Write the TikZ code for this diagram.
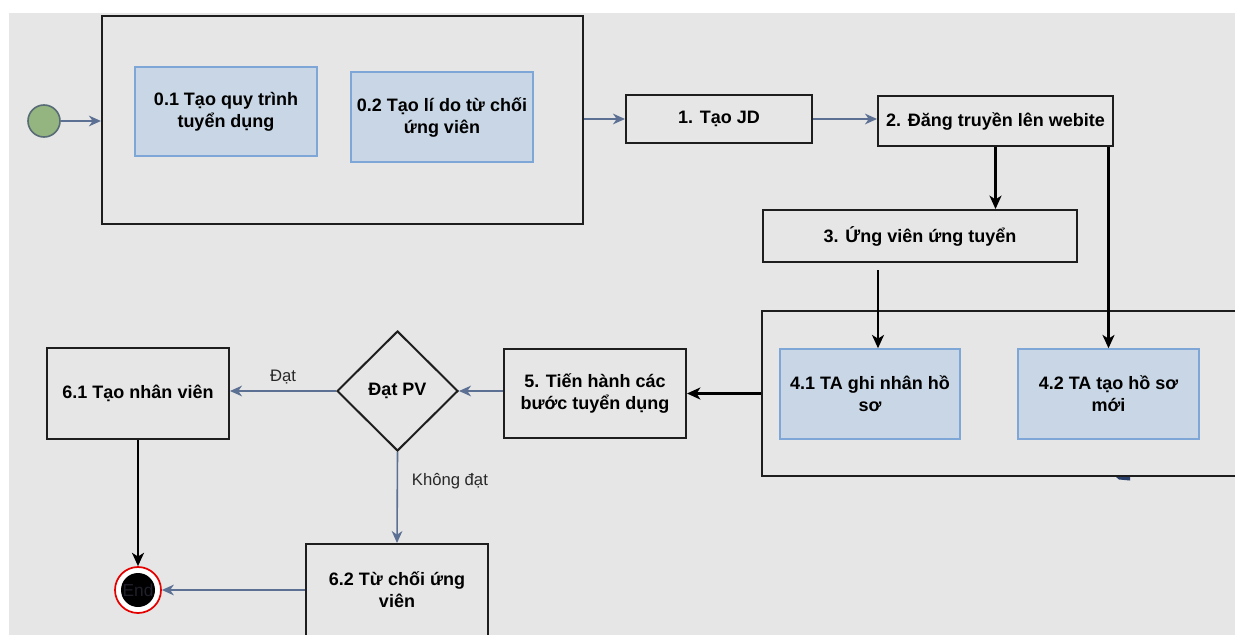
\documentclass[tikz,border=0pt]{standalone}
\usepackage{fontspec}
\setmainfont{Liberation Sans}
\usetikzlibrary{arrows.meta,shapes.geometric}

% one drawing unit
\def\pxu{0.75pt}

\definecolor{bggray}{RGB}{230,230,230}
\definecolor{flowblue}{RGB}{92,112,148}
\definecolor{taskfill}{RGB}{200,214,229}
\definecolor{taskline}{RGB}{126,166,214}
\definecolor{startfill}{RGB}{148,180,128}
\definecolor{startline}{RGB}{88,108,118}
\definecolor{edgegray}{RGB}{30,30,30}
\definecolor{endtext}{RGB}{32,32,44}
\definecolor{labeltext}{RGB}{40,40,40}
\definecolor{tipnavy}{RGB}{40,62,105}

\tikzset{
  boxtext/.style={align=center, font=\bfseries\fontsize{13.5}{16.5}\selectfont},
  plainbox/.style={rectangle, draw=edgegray, line width=1.5pt, inner sep=0pt, boxtext},
  taskbox/.style={rectangle, draw=taskline, line width=1.1pt, fill=taskfill, inner sep=0pt, boxtext},
  container/.style={rectangle, draw=edgegray, line width=1.6pt, inner sep=0pt},
  decision/.style={diamond, draw=edgegray, line width=1.5pt, inner sep=0pt, boxtext},
  startev/.style={circle, draw=startline, line width=1.2pt, fill=startfill, inner sep=0pt},
  endev/.style={circle, draw=red!90!black, line width=1.3pt, fill=white, inner sep=0pt,
    text=endtext, font=\fontsize{13}{15}\selectfont,
    path picture={\fill[black] (path picture bounding box.center) circle[radius=17*\pxu];}},
  blueflow/.style={draw=flowblue, line width=1.2pt, -{Stealth[length=9pt,width=8pt,inset=2.8pt]}},
  blackflow/.style={draw=black, line width=1.6pt, -{Stealth[length=10pt,width=9pt,inset=2.8pt]}},
  flowlabel/.style={font=\fontsize{12.5}{15}\selectfont, text=labeltext},
}

\begin{document}
\begin{tikzpicture}[x=\pxu, y=-\pxu]
  \useasboundingbox (0,0) rectangle (1235,635);
  \clip (0,0) rectangle (1235,635);
  \fill[white] (0,0) rectangle (1235,635);
  \fill[bggray] (9,13) rectangle (1240,640);

  % start event and the preparation group
  \node[startev, minimum size=32*\pxu] (start) at (44,121) {};
  \node[container, minimum width=481*\pxu, minimum height=208*\pxu] (c0) at (342.5,120) {};
  \node[taskbox, minimum width=182*\pxu, minimum height=89*\pxu] (t01) at (226,111.5) {0.1 Tạo quy trình\\tuyển dụng};
  \node[taskbox, minimum width=182*\pxu, minimum height=90*\pxu] (t02) at (442,117) {0.2 Tạo lí do từ chối\\ứng viên};

  % posting steps
  \node[plainbox, minimum width=186*\pxu, minimum height=48*\pxu] (jd) at (719,119) {1. Tạo JD};
  \node[plainbox, minimum width=235*\pxu, minimum height=50*\pxu] (post) at (995.5,121) {2. Đăng truyền lên webite};
  \node[plainbox, minimum width=314*\pxu, minimum height=52*\pxu] (apply) at (920,236) {3. Ứng viên ứng tuyển};

  % profile group
  \node[container, minimum width=483*\pxu, minimum height=165*\pxu] (c4) at (1003.5,393.5) {};
  \node[taskbox, minimum width=180*\pxu, minimum height=90*\pxu] (t41) at (870,394) {4.1 TA ghi nhân hồ\\sơ};
  \node[taskbox, minimum width=181*\pxu, minimum height=90*\pxu] (t42) at (1108.5,394) {4.2 TA tạo hồ sơ\\mới};
  \fill[tipnavy] (1116,477) -- (1130,477) -- (1130,480.5) -- (1119,479.5) -- cycle;

  % interview and outcome
  \node[plainbox, minimum width=182*\pxu, minimum height=89*\pxu] (step5) at (595,393.5) {5. Tiến hành các\\bước tuyển dụng};
  \node[decision, minimum width=121*\pxu, minimum height=120*\pxu] (dec) at (397.5,391) {Đạt PV};
  \node[plainbox, minimum width=182*\pxu, minimum height=91*\pxu] (n61) at (138,393.5) {6.1 Tạo nhân viên};
  \node[plainbox, minimum width=182*\pxu, minimum height=92*\pxu] (n62) at (397,590) {6.2 Từ chối ứng\\viên};
  \node[endev, minimum size=46*\pxu] (end) at (138,590) {End};

  \coordinate (a41) at (878,270);

  % connectors
  \draw[blueflow] (start.east) -- (start.east -| c0.west);
  \draw[blueflow] (c0.east |- jd) -- (jd.west);
  \draw[blueflow] (jd.east) -- (jd.east -| post.west);
  \draw[blackflow] (post.south) -- (post.south |- apply.north);
  \draw[blackflow] (a41) -- (a41 |- t41.north);
  \draw[blackflow] (post.south -| t42) -- (t42.north);
  \draw[blackflow] (c4.west) -- (step5.east);
  \draw[blueflow] (step5.west |- dec) -- (dec.east);
  \draw[blueflow] (dec.west) -- (dec.west -| n61.east) node[flowlabel, midway, above=1pt] {Đạt};
  \draw[blueflow] (dec.south) -- (n62.north) node[flowlabel, pos=0.32, right=7pt] {Không đạt};
  \draw[blueflow] (n62.west) -- (end.east);
  \draw[blackflow] (n61.south) -- (end.north);
\end{tikzpicture}
\end{document}
